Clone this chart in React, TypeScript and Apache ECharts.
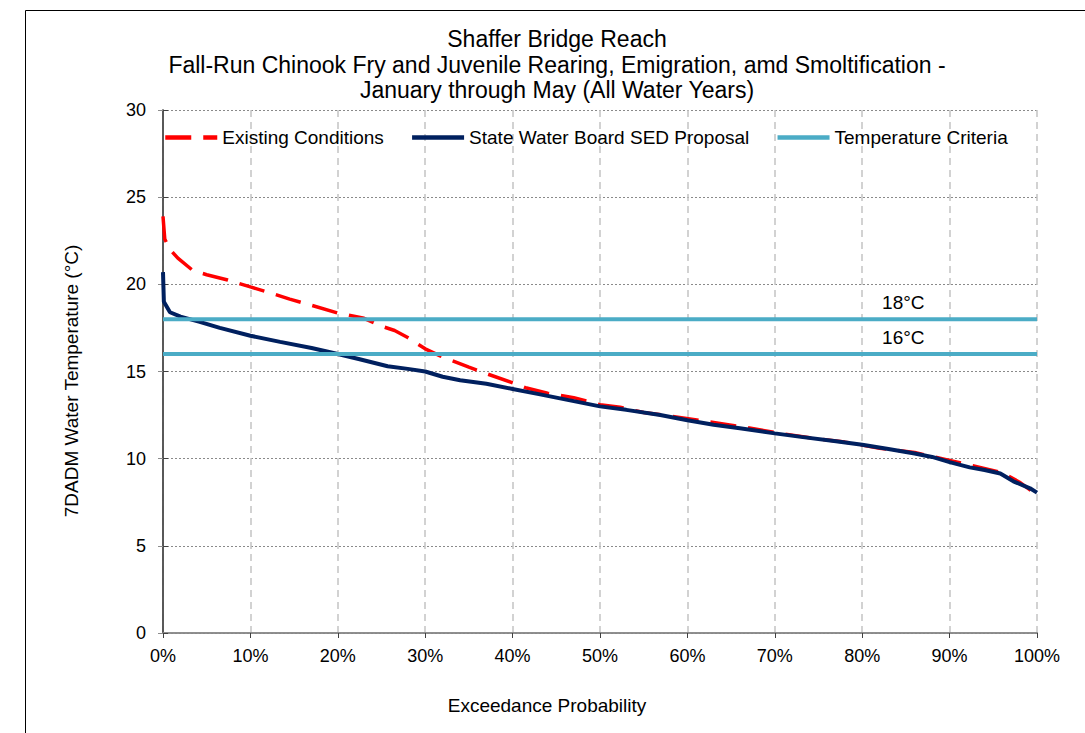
import React, { useEffect, useRef } from "react";
import * as echarts from "echarts";

const titleLines = [
  "Shaffer Bridge Reach",
  "Fall-Run Chinook Fry and Juvenile Rearing, Emigration, amd Smoltification -",
  "January through May (All Water Years)",
];
const yAxisTitle = "7DADM Water Temperature (°C)";
const xAxisTitle = "Exceedance Probability";

const seriesNames = ["Existing Conditions", "State Water Board SED Proposal", "Temperature Criteria"];

// [exceedance %, temperature °C]
const existing: [number, number][] = [
  [0, 23.9], [0.2, 22.6], [0.8, 22.0], [1.7, 21.5], [3.4, 20.8], [5, 20.55], [7.4, 20.25],
  [10, 19.85], [12, 19.55], [14.5, 19.15], [17, 18.8], [20, 18.35], [23, 18.05], [25, 17.6],
  [26.5, 17.35], [28, 16.95], [30, 16.3], [31.7, 15.9], [35, 15.25], [36.3, 15.0], [40.3, 14.3],
  [41.6, 14.05], [44, 13.75], [47, 13.5], [50, 13.1], [52.3, 12.95], [55, 12.65], [58, 12.45],
  [62, 12.15], [66, 11.85], [70, 11.5], [74, 11.2], [78, 10.95], [82, 10.6], [86, 10.35],
  [90, 9.9], [93, 9.55], [96, 9.2], [98, 8.65], [99.5, 8.1], [100, 7.8],
];

const proposal: [number, number][] = [
  [0, 20.7], [0.1, 19.0], [0.8, 18.4], [2, 18.15], [4.2, 17.85], [6.5, 17.5], [10, 17.05],
  [13.4, 16.7], [17, 16.35], [20, 16.0], [22.5, 15.7], [25.7, 15.3], [28, 15.15], [30, 15.0],
  [32, 14.7], [34, 14.5], [37, 14.3], [40, 14.0], [43, 13.7], [46, 13.4], [50, 13.0],
  [53, 12.8], [56.9, 12.5], [60, 12.2], [63, 11.95], [66, 11.75], [70, 11.45], [73, 11.25],
  [77, 11.0], [80, 10.8], [83, 10.55], [86, 10.3], [88, 10.1], [90, 9.8], [92.3, 9.5],
  [94, 9.35], [95.8, 9.15], [97.3, 8.7], [99.2, 8.3], [100, 8.05],
];

const criteriaValues = [18, 16];
const criteriaLabels = ["18°C", "16°C"];
const criteriaLabelX = 84.7;

const xMin = 0, xMax = 100, xStep = 10;
const yMin = 0, yMax = 30, yStep = 5;

const FONT = "'Liberation Sans', Arial, sans-serif";
const RED = "#FF0000";
const NAVY = "#00205F";
const TEAL = "#4BACC6";

export default function App() {
  const ref = useRef<HTMLDivElement>(null);
  useEffect(() => {
    if (!ref.current) return;
    const chart = echarts.init(ref.current, undefined, { renderer: "svg" });
    const criteriaSeries = criteriaValues.map((v, i) => ({
      name: seriesNames[2],
      type: "line",
      data: [[xMin, v], [xMax, v]],
      symbol: "none",
      lineStyle: { color: TEAL, width: 4 },
      itemStyle: { color: TEAL },
      z: 5,
      markPoint: {
        symbol: "circle",
        symbolSize: 0,
        silent: true,
        label: {
          show: true,
          position: "top",
          distance: 7,
          color: "#000",
          fontSize: 19,
          fontFamily: FONT,
          formatter: criteriaLabels[i],
        },
        data: [{ coord: [criteriaLabelX, v] }],
      },
    }));
    chart.setOption({
      animation: false,
      backgroundColor: "#fff",
      textStyle: { fontFamily: FONT },
      grid: { left: 163, right: 48, top: 110, bottom: 100, containLabel: false },
      legend: {
        left: 158,
        top: 123,
        itemWidth: 52,
        itemHeight: 14,
        itemGap: 26,
        itemStyle: { opacity: 0 },
        lineStyle: { width: 4.5 },
        textStyle: { fontSize: 19, color: "#000", fontFamily: FONT },
        data: seriesNames,
      },
      xAxis: [
        {
          type: "value",
          min: xMin,
          max: xMax,
          interval: xStep,
          axisLine: { show: true, lineStyle: { color: "#404040", width: 1.5 } },
          axisTick: { show: true, length: 5, lineStyle: { color: "#404040" } },
          axisLabel: { formatter: "{value}%", fontSize: 18, color: "#000", margin: 14, fontFamily: FONT },
          splitLine: { show: true, lineStyle: { color: "#c4c4c4", width: 1.5, type: [7, 5] } },
        },
        {
          type: "value",
          position: "top",
          min: xMin,
          max: xMax,
          interval: xStep,
          axisLine: { show: true, lineStyle: { color: "#9a9a9a", width: 1.5 } },
          axisTick: { show: false },
          axisLabel: { show: false },
          splitLine: { show: false },
        },
      ],
      yAxis: [
        {
          type: "value",
          min: yMin,
          max: yMax,
          interval: yStep,
          axisLine: { show: true, lineStyle: { color: "#8c8c8c", width: 1.5 } },
          axisTick: { show: true, length: 5, lineStyle: { color: "#8c8c8c" } },
          axisLabel: { fontSize: 18, color: "#000", margin: 17, fontFamily: FONT },
          splitLine: { show: true, lineStyle: { color: "#8a8a8a", width: 1, type: [2, 2] } },
        },
        {
          type: "value",
          position: "right",
          min: yMin,
          max: yMax,
          interval: yStep,
          axisLine: { show: true, lineStyle: { color: "#404040", width: 1.5 } },
          axisTick: { show: true, length: 5, lineStyle: { color: "#404040" } },
          axisLabel: { show: false },
          splitLine: { show: false },
        },
      ],
      series: [
        {
          name: seriesNames[0],
          type: "line",
          data: existing,
          symbol: "none",
          lineStyle: { color: RED, width: 3.5, type: [26, 12] },
          itemStyle: { color: RED },
          z: 3,
        },
        {
          name: seriesNames[1],
          type: "line",
          data: proposal,
          symbol: "none",
          lineStyle: { color: NAVY, width: 4 },
          itemStyle: { color: NAVY },
          z: 4,
        },
        ...criteriaSeries,
      ],
      graphic: [
        {
          type: "rect",
          shape: { x: 25.5, y: 10.5, width: 1200, height: 1000 },
          style: { fill: "none", stroke: "#000", lineWidth: 1 },
          silent: true,
        },
        ...titleLines.map((t, i) => ({
          type: "text",
          x: 557,
          y: 39 + i * 25.5,
          style: { text: t, fontSize: 23, fontFamily: FONT, fill: "#000", textAlign: "center", textVerticalAlign: "middle" },
        })),
        {
          type: "text",
          x: 71,
          y: 381,
          rotation: Math.PI / 2,
          style: { text: yAxisTitle, fontSize: 19, fontFamily: FONT, fill: "#000", textAlign: "center", textVerticalAlign: "middle" },
        },
        {
          type: "text",
          x: 547,
          y: 705,
          style: { text: xAxisTitle, fontSize: 19, fontFamily: FONT, fill: "#000", textAlign: "center", textVerticalAlign: "middle" },
        },
      ],
    });
    return () => chart.dispose();
  }, []);
  return <div ref={ref} style={{ position: "fixed", left: 0, top: 0, width: 1085, height: 733 }} />;
}
